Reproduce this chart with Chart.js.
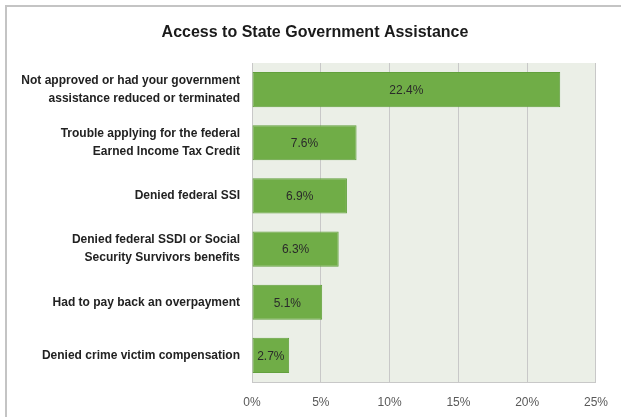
<!DOCTYPE html>
<html>
<head>
<meta charset="utf-8">
<script src="https://cdn.jsdelivr.net/npm/chart.js@4"></script>
<style>
  html, body { margin: 0; padding: 0; background: #ffffff; }
  #wrap { width: 621px; height: 417px; position: relative; }
</style>
</head>
<body>
<div id="wrap"><canvas id="chart" width="621" height="417"></canvas></div>
<script>
// Survey results: share of respondents reporting each problem
const categories = [
  ["Not approved or had your government", "assistance reduced or terminated"],
  ["Trouble applying for the federal", "Earned Income Tax Credit"],
  "Denied federal SSI",
  ["Denied federal SSDI or Social", "Security Survivors benefits"],
  "Had to pay back an overpayment",
  "Denied crime victim compensation"
];
const percentValues = [22.4, 7.6, 6.9, 6.3, 5.1, 2.7];
const xTickValues = [0, 5, 10, 15, 20, 25];
const chartTitle = "Access to State Government Assistance";

const FONT = "'Liberation Sans', Arial, sans-serif";

// White page with a thin grey frame along the top and left edges,
// plus the pale plot-area fill behind the bars
const backdrop = {
  id: 'backdrop',
  beforeDraw(chart) {
    const { ctx, chartArea: a } = chart;
    ctx.save();
    ctx.fillStyle = '#ffffff';
    ctx.fillRect(0, 0, chart.width, chart.height);
    ctx.strokeStyle = '#c4c4c4';
    ctx.lineWidth = 2;
    ctx.beginPath();
    ctx.moveTo(6, chart.height);
    ctx.lineTo(6, 6);
    ctx.lineTo(chart.width, 6);
    ctx.stroke();
    ctx.fillStyle = '#ebefe7';
    ctx.fillRect(a.left, a.top, a.right - a.left, a.bottom - a.top);
    ctx.restore();
  }
};

// Heading, centred a little right of the canvas middle
const heading = {
  id: 'heading',
  afterDraw(chart) {
    const { ctx } = chart;
    ctx.save();
    ctx.font = "bold 16px " + FONT;
    ctx.fillStyle = '#1a1a1a';
    ctx.textAlign = 'center';
    ctx.textBaseline = 'middle';
    ctx.fillText(chartTitle, 315, 33);
    ctx.restore();
  }
};

// Value labels centred inside each bar
const barLabels = {
  id: 'barLabels',
  afterDatasetsDraw(chart) {
    const { ctx } = chart;
    const meta = chart.getDatasetMeta(0);
    ctx.save();
    ctx.font = "12px " + FONT;
    ctx.fillStyle = '#2a2a2a';
    ctx.textAlign = 'center';
    ctx.textBaseline = 'middle';
    meta.data.forEach((bar, i) => {
      const v = chart.data.datasets[0].data[i];
      const cx = (bar.base + bar.x) / 2;
      ctx.fillText(v.toFixed(1) + '%', cx, bar.y + 1);
    });
    ctx.restore();
  }
};

new Chart(document.getElementById('chart'), {
  type: 'bar',
  data: {
    labels: categories,
    datasets: [{
      data: percentValues,
      backgroundColor: '#70ad47',
      borderColor: '#62a03d',
      borderWidth: 1,
      borderSkipped: false,
      categoryPercentage: 1.0,
      barPercentage: 0.66
    }]
  },
  options: {
    indexAxis: 'y',
    responsive: false,
    animation: false,
    devicePixelRatio: 1,
    layout: { padding: { left: 0, right: 24, top: 63, bottom: 0 } },
    plugins: {
      legend: { display: false },
      tooltip: { enabled: false },
      title: { display: false }
    },
    scales: {
      x: {
        min: 0,
        max: 25,
        afterBuildTicks(axis) {
          axis.ticks = xTickValues.map(v => ({ value: v }));
        },
        afterFit(axis) { axis.height = 35; },
        grid: { color: '#c8c8c8', lineWidth: 1, drawTicks: false },
        border: { display: true, color: '#c8c8c8' },
        ticks: {
          padding: 13,
          maxRotation: 0,
          color: '#595959',
          font: { family: FONT, size: 12 },
          callback: v => v + '%'
        }
      },
      y: {
        afterFit(axis) { axis.width = 252; },
        grid: { display: false, drawTicks: false },
        border: { display: true, color: '#c8c8c8' },
        ticks: {
          padding: 12,
          color: '#222222',
          font: { family: FONT, size: 12, weight: 'bold', lineHeight: 1.5 }
        }
      }
    }
  },
  plugins: [backdrop, barLabels, heading]
});
</script>
</body>
</html>
